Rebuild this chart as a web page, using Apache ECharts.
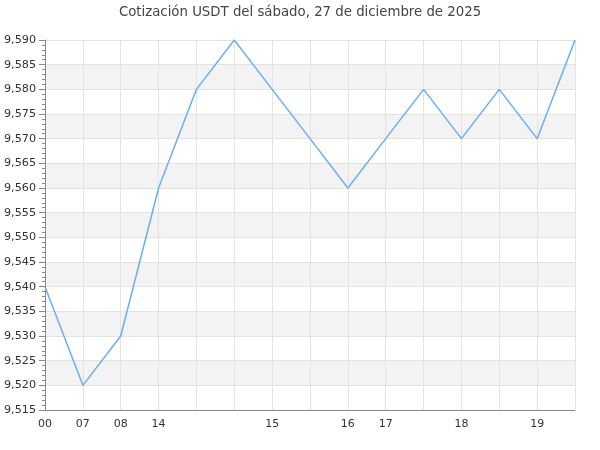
<!DOCTYPE html>
<html><head><meta charset="utf-8">
<script src="https://cdn.jsdelivr.net/npm/echarts@6/dist/echarts.min.js"></script>
<style>html,body{margin:0;padding:0;background:#fff}#c{width:600px;height:450px}</style>
</head><body><div id="c"></div>
<script>
var categories = ['00','07','08','14','','','15','','16','17','','18','','19',''];
var prices = [9.540, 9.520, 9.530, 9.560, 9.580, 9.590, 9.580, 9.570, 9.560, 9.570, 9.580, 9.570, 9.580, 9.570, 9.590];
var titleText = 'Cotización USDT del sábado, 27 de diciembre de 2025';
var chart = echarts.init(document.getElementById('c'), null, {renderer:'canvas'});
chart.setOption({
  animation: false,
  textStyle: {fontFamily: 'DejaVu Sans'},
  title: {text: titleText, left: 'center', top: 1, textStyle: {fontSize: 13.3, fontWeight: 'normal', color: '#444', fontFamily: 'DejaVu Sans'}},
  grid: {left: 45, right: 25, top: 40, bottom: 40, containLabel: false},
  xAxis: {
    type: 'category', data: categories, boundaryGap: false,
    axisLine: {lineStyle: {color: '#888'}},
    axisTick: {show: false},
    axisLabel: {interval: 0, color: '#333', fontSize: 11, margin: 9},
    splitLine: {show: true, interval: 0, lineStyle: {color: '#e3e3e3'}}
  },
  yAxis: {
    type: 'value', min: 9.515, max: 9.590, interval: 0.005,
    axisLine: {show: true, lineStyle: {color: '#888'}},
    axisTick: {show: true, length: 6, lineStyle: {color: '#888'}},
    minorTick: {show: true, splitNumber: 5, length: 3, lineStyle: {color: '#888'}},
    axisLabel: {color: '#333', fontSize: 11.2, margin: 9, formatter: function(v){return v.toFixed(3).replace('.', ',');}},
    splitLine: {show: true, lineStyle: {color: '#e3e3e3'}},
    splitArea: {show: true, areaStyle: {color: ['#ffffff', '#f3f3f3']}}
  },
  series: [{
    type: 'line', data: prices, symbol: 'none',
    lineStyle: {color: '#6aaef5', width: 1.5}
  }]
});
</script></body></html>
